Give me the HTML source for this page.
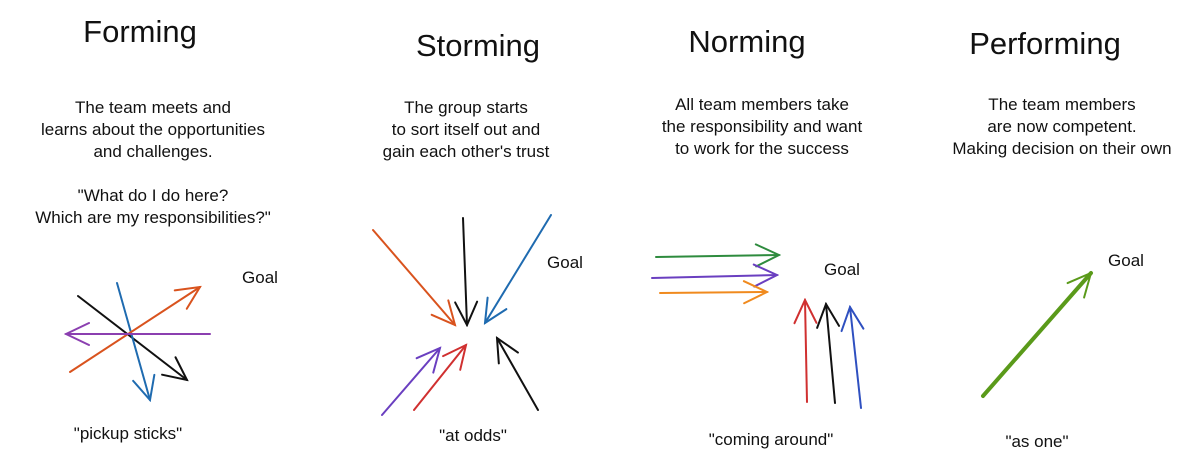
<!DOCTYPE html>
<html><head><meta charset="utf-8"><style>
body{margin:0;width:1200px;height:469px;background:#fff;position:relative;overflow:hidden;font-family:"Liberation Sans",sans-serif;color:#111}
.t{position:absolute;text-align:center;white-space:nowrap}
.h{font-size:31px;transform:translateX(-50%)}
.p{font-size:17px;line-height:22px;transform:translateX(-50%)}
svg{position:absolute;left:0;top:0}
</style></head><body>
<div class="t h" style="left:140px;top:14px">Forming</div>
<div class="t h" style="left:478px;top:28px">Storming</div>
<div class="t h" style="left:747px;top:24px">Norming</div>
<div class="t h" style="left:1045px;top:26px">Performing</div>
<div class="t p" style="left:153px;top:97px">The team meets and<br>learns about the opportunities<br>and challenges.<br><br>"What do I do here?<br>Which are my responsibilities?"</div>
<div class="t p" style="left:466px;top:97px">The group starts<br>to sort itself out and<br>gain each other's trust</div>
<div class="t p" style="left:762px;top:94px">All team members take<br>the responsibility and want<br>to work for the success</div>
<div class="t p" style="left:1062px;top:94px">The team members<br>are now competent.<br>Making decision on their own</div>
<div class="t p" style="left:260px;top:267px">Goal</div>
<div class="t p" style="left:565px;top:252px">Goal</div>
<div class="t p" style="left:842px;top:259px">Goal</div>
<div class="t p" style="left:1126px;top:250px">Goal</div>
<div class="t p" style="left:128px;top:423px">"pickup sticks"</div>
<div class="t p" style="left:473px;top:425px">"at odds"</div>
<div class="t p" style="left:771px;top:429px">"coming around"</div>
<div class="t p" style="left:1037px;top:431px">"as one"</div>
<svg width="1200" height="469" fill="none" stroke-width="2" stroke-linecap="round">
<defs>
<marker id="a" viewBox="0 0 30 30" refX="28" refY="15" markerWidth="30" markerHeight="30" markerUnits="userSpaceOnUse" orient="auto"><path d="M5 4L28 15L5 26" stroke="context-stroke" stroke-width="2" fill="none"/></marker>
</defs>
<g marker-end="url(#a)">
<line x1="78" y1="296" x2="187" y2="380" stroke="#111"/>
<line x1="117" y1="283" x2="150" y2="400" stroke="#1f6bb0"/>
<line x1="70" y1="372" x2="200" y2="287" stroke="#d9531e"/>
<line x1="210" y1="334" x2="66" y2="334" stroke="#8b3fb0"/>
<line x1="373" y1="230" x2="455" y2="325" stroke="#d9531e"/>
<line x1="463" y1="218" x2="467" y2="325" stroke="#111"/>
<line x1="551" y1="215" x2="485" y2="323" stroke="#1f6bb0"/>
<line x1="382" y1="415" x2="440" y2="348" stroke="#6a3fc0"/>
<line x1="414" y1="410" x2="466" y2="345" stroke="#d03030"/>
<line x1="538" y1="410" x2="497" y2="338" stroke="#111"/>
<line x1="656" y1="257" x2="779" y2="255" stroke="#2e8b3e"/>
<line x1="652" y1="278" x2="777" y2="275" stroke="#6a3fc0"/>
<line x1="660" y1="293" x2="767" y2="292" stroke="#f08a1e"/>
<line x1="807" y1="402" x2="805" y2="300" stroke="#d03030"/>
<line x1="835" y1="403" x2="826" y2="304" stroke="#111"/>
<line x1="861" y1="408" x2="850" y2="307" stroke="#2f50c0"/>
<line x1="983" y1="396" x2="1091" y2="273" stroke="#5a9a1a" stroke-width="4"/>
</g>
</svg>
</body></html>
